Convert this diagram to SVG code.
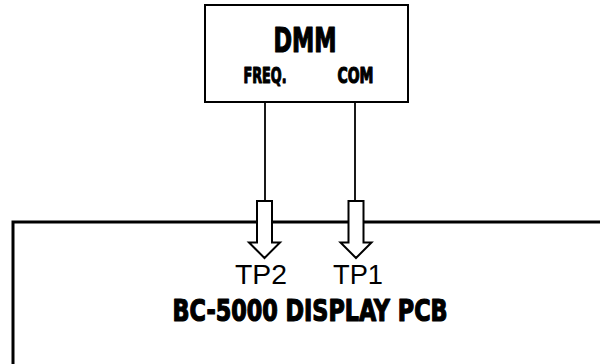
<svg xmlns="http://www.w3.org/2000/svg" width="600" height="364" viewBox="0 0 600 364">
<style>
.box{fill:#fff;stroke:#000;stroke-width:2}
.pcb{fill:#fff;stroke:#000;stroke-width:3}
.wire{fill:none;stroke:#000;stroke-width:1.8}
.arrow{fill:#fff;stroke:#000;stroke-width:2;stroke-linejoin:miter}
.imp{font-family:"DejaVu Sans Condensed","DejaVu Sans","Liberation Sans Narrow",sans-serif;font-weight:bold;fill:#000;stroke:#000;stroke-width:1.2;stroke-linejoin:round}
.tp{font-family:"Liberation Sans",Arial,sans-serif;font-size:28px;fill:#000}
</style>
<rect width="600" height="364" fill="#fff"/>
<g id="pcb">
<path class="pcb" d="M13 364 V222 H602"/>
<text class="tp" x="261" y="284" text-anchor="middle" textLength="52" lengthAdjust="spacingAndGlyphs">TP2</text>
<text class="tp" x="358" y="284" text-anchor="middle" textLength="50" lengthAdjust="spacingAndGlyphs">TP1</text>
<text class="imp" x="172.5" y="321" font-size="29.5" textLength="275" lengthAdjust="spacingAndGlyphs">BC-5000 DISPLAY PCB</text>
</g>
<g id="dmm">
<rect class="box" x="205" y="5" width="203" height="97"/>
<text class="imp" x="273.5" y="52" font-size="34" textLength="63" lengthAdjust="spacingAndGlyphs">DMM</text>
<text class="imp" x="243.5" y="83" font-size="22" textLength="43" lengthAdjust="spacingAndGlyphs">FREQ.</text>
<text class="imp" x="337.5" y="83" font-size="22" textLength="36" lengthAdjust="spacingAndGlyphs">COM</text>
</g>
<g id="connectors">
<line class="wire" x1="265" y1="102" x2="265" y2="201"/>
<line class="wire" x1="355" y1="102" x2="355" y2="201"/>
<path class="arrow" d="M257 201 H272 V242.5 H280 L264.5 258 L249 242.5 H257 Z"/>
<path class="arrow" d="M348.5 201 H363.5 V242.5 H371.5 L356 258 L340.5 242.5 H348.5 Z"/>
</g>
</svg>
